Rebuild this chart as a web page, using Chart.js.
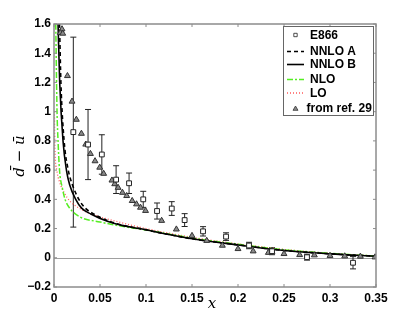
<!DOCTYPE html>
<html>
<head>
<meta charset="utf-8">
<script src="https://cdn.jsdelivr.net/npm/chart.js@4"></script>
<style>
    html, body { margin: 0; padding: 0; background: #fff; }
    #wrap { width: 415px; height: 322px; }
</style>
</head>
<body>
<div id="wrap"><canvas id="chart" width="415" height="322"></canvas></div>
<script>
// E866 data points with symmetric errors
const e866X = [0.021, 0.037, 0.052, 0.0675, 0.0816, 0.097, 0.112, 0.128, 0.142, 0.162, 0.187, 0.212, 0.237, 0.275, 0.325];
const e866Y = [0.86, 0.775, 0.707, 0.535, 0.51, 0.40, 0.32, 0.337, 0.258, 0.181, 0.145, 0.084, 0.045, 0.004, -0.034];
const e866Err = [0.65, 0.24, 0.135, 0.095, 0.07, 0.055, 0.055, 0.047, 0.044, 0.032, 0.026, 0.022, 0.024, 0.02, 0.042];

// points "from ref. 29"
const refX = [0.0087, 0.0068, 0.0095, 0.0146, 0.0196, 0.0243, 0.0298, 0.0345, 0.0396, 0.0446, 0.0497, 0.054, 0.063, 0.066, 0.0697, 0.0744, 0.079, 0.085, 0.0897, 0.094, 0.0995, 0.117, 0.133, 0.150, 0.166, 0.183, 0.2, 0.2165, 0.233, 0.237, 0.25, 0.267, 0.283, 0.3, 0.316, 0.333, 0.349];
const refY = [1.565, 1.54, 1.535, 1.245, 1.07, 0.946, 0.85, 0.776, 0.712, 0.662, 0.618, 0.576, 0.53, 0.505, 0.48, 0.446, 0.424, 0.39, 0.367, 0.344, 0.322, 0.254, 0.195, 0.151, 0.117, 0.084, 0.061, 0.045, 0.035, 0.038, 0.027, 0.02, 0.018, 0.014, 0.011, 0.009, 0.004];

// theory curves
const nnloAX = [0.006, 0.0075, 0.011, 0.0155, 0.02, 0.027, 0.034, 0.043, 0.06, 0.075, 0.093, 0.12, 0.15, 0.2, 0.25, 0.3, 0.35];
const nnloAY = [1.6, 1.2, 0.8, 0.6, 0.5, 0.4, 0.34, 0.3, 0.25, 0.222, 0.2, 0.165, 0.13, 0.088, 0.05, 0.027, 0.011];
const nnloBX = [0.0044, 0.0062, 0.0098, 0.0135, 0.017, 0.0236, 0.03, 0.04, 0.058, 0.075, 0.093, 0.12, 0.15, 0.2, 0.25, 0.3, 0.35];
const nnloBY = [1.6, 1.2, 0.8, 0.6, 0.5, 0.4, 0.34, 0.3, 0.25, 0.22, 0.2, 0.165, 0.13, 0.088, 0.05, 0.027, 0.011];
const nloX = [0.0019, 0.0033, 0.0044, 0.006, 0.009, 0.012, 0.017, 0.028, 0.05, 0.07, 0.1, 0.15, 0.2, 0.25, 0.3, 0.35];
const nloY = [1.6, 1.0, 0.8, 0.6, 0.48, 0.4, 0.34, 0.28, 0.245, 0.22, 0.19, 0.135, 0.092, 0.055, 0.03, 0.012];
const loX = [0.0004, 0.001, 0.003, 0.006, 0.012, 0.017, 0.03, 0.05, 0.07, 0.1, 0.15, 0.2, 0.25, 0.3, 0.35];
const loY = [1.0, 0.75, 0.6, 0.52, 0.435, 0.39, 0.33, 0.28, 0.245, 0.2, 0.14, 0.095, 0.057, 0.03, 0.012];

// axis ticks
const xTicks = [0, 0.05, 0.1, 0.15, 0.2, 0.25, 0.3, 0.35];
const yTicks = [-0.2, 0, 0.2, 0.4, 0.6, 0.8, 1, 1.2, 1.4, 1.6];

const legendNames = ['E866', 'NNLO A', 'NNLO B', 'NLO', 'LO', 'from ref. 29'];

function pts(xs, ys) {
    return xs.map((x, i) => ({ x: x, y: ys[i] }));
}

const tickFont = { family: 'Liberation Sans', size: 12, weight: 'bold' };
const frameColor = '#8c8c8c';

// frame, inner ticks, zero line, error bars, legend and axis titles
const decorPlugin = {
    id: 'decor',
    beforeDatasetsDraw(chart) {
        const ctx = chart.ctx;
        const a = chart.chartArea;
        const xs = chart.scales.x, ys = chart.scales.y;
        ctx.save();
        // zero line
        ctx.strokeStyle = '#a0a0a0';
        ctx.lineWidth = 1;
        const y0 = Math.round(ys.getPixelForValue(0)) + 0.5;
        ctx.beginPath();
        ctx.moveTo(a.left, y0);
        ctx.lineTo(a.right, y0);
        ctx.stroke();

        // error bars
        ctx.strokeStyle = '#222';
        ctx.lineWidth = 1;
        e866X.forEach((x, i) => {
            const px = xs.getPixelForValue(x);
            const top = ys.getPixelForValue(e866Y[i] + e866Err[i]);
            const bot = ys.getPixelForValue(e866Y[i] - e866Err[i]);
            ctx.beginPath();
            ctx.moveTo(px, top); ctx.lineTo(px, bot);
            ctx.moveTo(px - 3, top); ctx.lineTo(px + 3, top);
            ctx.moveTo(px - 3, bot); ctx.lineTo(px + 3, bot);
            ctx.stroke();
        });
        ctx.restore();
    },
    afterDraw(chart) {
        const ctx = chart.ctx;
        const a = chart.chartArea;
        const xs = chart.scales.x, ys = chart.scales.y;
        ctx.save();
        // frame
        ctx.strokeStyle = frameColor;
        ctx.lineWidth = 1.5;
        ctx.strokeRect(a.left, a.top, a.right - a.left, a.bottom - a.top);
        // inner ticks
        ctx.lineWidth = 1;
        ctx.beginPath();
        xTicks.forEach(v => {
            const p = xs.getPixelForValue(v);
            ctx.moveTo(p, a.bottom); ctx.lineTo(p, a.bottom - 3);
            ctx.moveTo(p, a.top); ctx.lineTo(p, a.top + 3);
        });
        yTicks.forEach(v => {
            const p = ys.getPixelForValue(v);
            ctx.moveTo(a.left, p); ctx.lineTo(a.left + 3, p);
            ctx.moveTo(a.right, p); ctx.lineTo(a.right - 3, p);
        });
        ctx.stroke();

        // legend
        const lx = 283.5, ly = 26.5, lw = 90, lh = 89;
        ctx.fillStyle = '#fff';
        ctx.fillRect(lx, ly, lw, lh);
        ctx.strokeStyle = '#666';
        ctx.lineWidth = 1;
        ctx.strokeRect(lx, ly, lw, lh);
        const rows = [35, 51.5, 64.5, 79.5, 93, 108.5];
        ctx.font = 'bold 12px "Liberation Sans"';
        ctx.textBaseline = 'middle';
        chart.data.datasets.forEach((ds, i) => {
            const y = rows[i];
            const x1 = 287, x2 = 304;
            ctx.save();
            if (ds.showLine === false) {
                const cx = (x1 + x2) / 2;
                ctx.strokeStyle = ds.borderColor;
                ctx.fillStyle = ds.backgroundColor;
                ctx.lineWidth = 0.8;
                ctx.beginPath();
                if (ds.pointStyle === 'rect') {
                    ctx.rect(cx - 1.7, y - 1.7, 3.4, 3.4);
                } else {
                    ctx.moveTo(cx, y - 2.5);
                    ctx.lineTo(cx + 2.5, y + 1.8);
                    ctx.lineTo(cx - 2.5, y + 1.8);
                    ctx.closePath();
                }
                ctx.fill();
                ctx.stroke();
            } else {
                ctx.strokeStyle = ds.borderColor;
                ctx.lineWidth = ds.borderWidth;
                ctx.setLineDash(ds.borderDash || []);
                ctx.beginPath();
                ctx.moveTo(x1, y);
                ctx.lineTo(x2, y);
                ctx.stroke();
            }
            ctx.restore();
            ctx.fillStyle = '#000';
            ctx.fillText(legendNames[i], i === 5 ? 306.5 : 310, y + 0.5);
        });

        // axis titles
        ctx.fillStyle = '#000';
        ctx.font = 'italic 15px "DejaVu Serif"';
        ctx.textAlign = 'center';
        ctx.textBaseline = 'middle';
        ctx.fillText('x', 212, 304);
        ctx.translate(20, 156);
        ctx.rotate(-Math.PI / 2);
        ctx.fillText('d\u0304 \u2212 u\u0304', 0, 0);
        ctx.restore();
    }
};

const ctx = document.getElementById('chart').getContext('2d');
const myChart = new Chart(ctx, {
    type: 'scatter',
    data: {
        datasets: [{
            label: 'E866',
            data: pts(e866X, e866Y),
            pointStyle: 'rect',
            pointRadius: 3.4,
            borderColor: '#222',
            backgroundColor: '#fff',
            borderWidth: 1,
            showLine: false,
            order: 0
        }, {
            label: 'NNLO A',
            type: 'line',
            data: pts(nnloAX, nnloAY),
            borderColor: '#000',
            borderWidth: 1.6,
            borderDash: [4, 3],
            pointRadius: 0,
            fill: false,
            cubicInterpolationMode: 'monotone',
            order: 2
        }, {
            label: 'NNLO B',
            type: 'line',
            data: pts(nnloBX, nnloBY),
            borderColor: '#000',
            borderWidth: 1.6,
            pointRadius: 0,
            fill: false,
            cubicInterpolationMode: 'monotone',
            order: 3
        }, {
            label: 'NLO',
            type: 'line',
            data: pts(nloX, nloY),
            borderColor: '#55ee22',
            borderWidth: 1.5,
            borderDash: [6, 2, 2, 2],
            pointRadius: 0,
            fill: false,
            cubicInterpolationMode: 'monotone',
            order: 4
        }, {
            label: 'LO',
            type: 'line',
            data: pts(loX, loY),
            borderColor: '#ff5a5a',
            borderWidth: 1.3,
            borderDash: [1, 2],
            pointRadius: 0,
            fill: false,
            cubicInterpolationMode: 'monotone',
            order: 5
        }, {
            label: 'from ref. 29',
            data: pts(refX, refY),
            pointStyle: 'triangle',
            pointRadius: 3.4,
            borderColor: '#333',
            backgroundColor: '#8a8a8a',
            borderWidth: 1,
            showLine: false,
            order: 1
        }]
    },
    options: {
        responsive: false,
        animation: false,
        layout: {
            padding: { top: 24, right: 39, left: 0, bottom: 0 }
        },
        plugins: {
            legend: { display: false },
            tooltip: { enabled: false }
        },
        scales: {
            x: {
                type: 'linear',
                min: 0,
                max: 0.35,
                afterBuildTicks: s => { s.ticks = xTicks.map(v => ({ value: v })); },
                afterFit: s => { s.height = 35; },
                grid: { display: false, drawTicks: false },
                border: { display: false },
                ticks: {
                    color: '#000',
                    font: tickFont,
                    padding: 4,
                    maxRotation: 0,
                    callback: v => String(v)
                }
            },
            y: {
                type: 'linear',
                min: -0.2,
                max: 1.6,
                afterBuildTicks: s => { s.ticks = yTicks.map(v => ({ value: v })); },
                afterFit: s => { s.width = 54; },
                grid: { display: false, drawTicks: false },
                border: { display: false },
                ticks: {
                    color: '#000',
                    font: tickFont,
                    padding: 3,
                    callback: v => (v < 0 ? '\u2212' + String(-v) : String(v))
                }
            }
        }
    },
    plugins: [decorPlugin]
});
</script>
</body>
</html>
